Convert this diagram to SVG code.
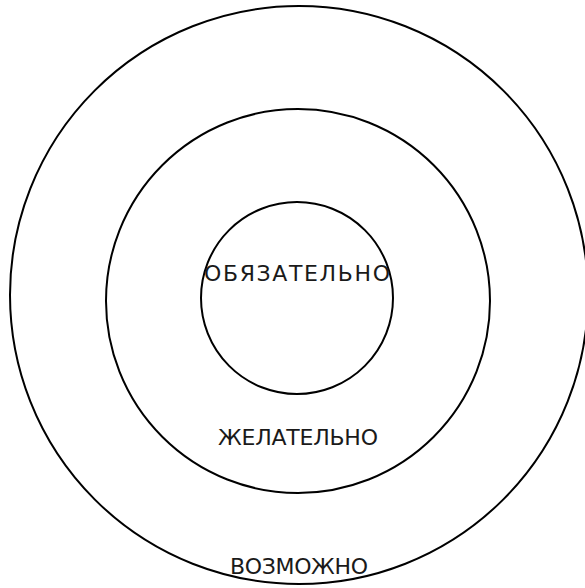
<svg xmlns="http://www.w3.org/2000/svg" width="585" height="588" viewBox="0 0 585 588">
<style>
.ring{fill:none;stroke:#000;stroke-width:2}
.lbl{font-family:"DejaVu Sans","Open Sans",sans-serif;font-size:22px;fill:#1a1a1a;text-anchor:middle}
</style>
<rect width="585" height="588" fill="#fff"/>
<g id="outer">
<circle class="ring" cx="299" cy="295" r="289"/>
<text class="lbl" x="299" y="574" textLength="138" lengthAdjust="spacing">ВОЗМОЖНО</text>
</g>
<g id="middle">
<circle class="ring" cx="298" cy="301" r="192"/>
<text class="lbl" x="298" y="445" textLength="160" lengthAdjust="spacing">ЖЕЛАТЕЛЬНО</text>
</g>
<g id="inner">
<circle class="ring" cx="297" cy="298" r="96"/>
<text class="lbl" x="297" y="281" textLength="186" lengthAdjust="spacing">ОБЯЗАТЕЛЬНО</text>
</g>
<g id="connectors"></g>
</svg>
